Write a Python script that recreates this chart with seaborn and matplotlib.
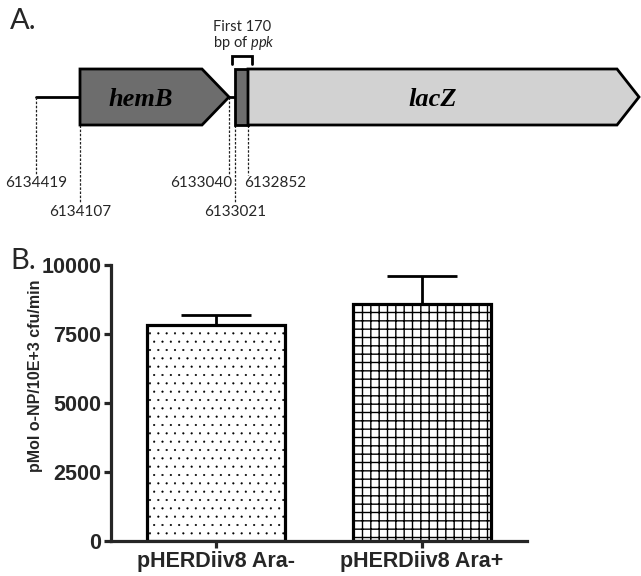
import numpy as np
import pandas as pd
import seaborn as sns
import matplotlib.pyplot as plt
from matplotlib.patches import Polygon

# ---- panel A: gene map (schematic, not to scale) ----
coords_bp = ['6134419', '6134107', '6133040', '6133021', '6132852']
coord_x = [36, 80, 229, 235, 248]          # schematic x positions
coord_row = [0, 1, 0, 1, 0]                # label row
coord_ha = ['center', 'center', 'right', 'center', 'left']
coord_from = [97, 125, 97, 125, 125]       # where the dashed line starts

gene_names = ['hemB', 'ppk', 'lacZ']
gene_start = [80, 235, 248]
gene_end = [229, 248, 639]
gene_head = [27, 0, 22]
gene_color = ['#6d6d6d', '#6d6d6d', '#d2d2d2']
gene_label = [True, False, True]

# ---- panel B: beta-gal activity ----
strains = ['pHERDiiv8 Ara-', 'pHERDiiv8 Ara+']
activity = [7820, 8580]
activity_sd = [370, 1010]
hatches = ['..', '++']
hatch_lw = [0.3, 1.0]

sns.set_theme(style='ticks')
plt.rcParams['font.family'] = ['Liberation Sans', 'DejaVu Sans']
plt.rcParams['hatch.linewidth'] = 1.0
plt.rcParams['mathtext.fontset'] = 'custom'
plt.rcParams['mathtext.rm'] = 'Lato'
plt.rcParams['mathtext.it'] = 'Lato:italic'

fig = plt.figure(figsize=(6.41, 5.76), dpi=100)

# panel A in pixel-like units
axA = fig.add_axes([0, 1 - 230 / 576, 1, 230 / 576])
axA.set_xlim(0, 641)
axA.set_ylim(230, 0)
axA.axis('off')

y_top, y_bot, y_mid = 69, 125, 97
axA.plot([coord_x[0], gene_start[0]], [y_mid, y_mid], color='black', lw=2)
axA.plot([gene_end[0], gene_start[1]], [y_mid, y_mid], color='black', lw=2)

for name, s, e, h, c, show in zip(gene_names, gene_start, gene_end, gene_head, gene_color, gene_label):
    pts = [(s, y_top), (e - h, y_top), (e, y_mid), (e - h, y_bot), (s, y_bot)]
    axA.add_patch(Polygon(pts, closed=True, facecolor=c, edgecolor='black', lw=2, zorder=3))
    if show:
        axA.text((s + e - h) / 2, y_mid + 2, name, family='Liberation Serif', style='italic',
                 weight='bold', fontsize=19, ha='center', va='center', color='black', zorder=4)

row_y = [183, 212]
for lab, x, r, ha, y0 in zip(coords_bp, coord_x, coord_row, coord_ha, coord_from):
    y1 = 175 if r == 0 else 203
    axA.plot([x, x], [y0, y1], color='#222222', lw=0.9, ls=(0, (2, 1.3)), zorder=2)
    tx = x + 3 if ha == 'right' else (x - 4 if ha == 'left' else x)
    axA.text(tx, row_y[r], lab, family='Lato', fontsize=11, ha=ha, va='center')

# bracket for first 170 bp of ppk
axA.plot([232, 232, 252, 252], [64, 56, 56, 64], color='black', lw=2, solid_joinstyle='miter')
axA.text(213, 27, 'First 170', family='Lato', fontsize=10.5, ha='left', va='center')
axA.text(213, 43, 'bp of $\\mathit{ppk}$', family='Lato', fontsize=10.5, ha='left', va='center')

fig.text(10 / 641, 1 - 21 / 576, 'A.', family='Lato', fontsize=21, ha='left', va='center')
fig.text(10 / 641, 1 - 261 / 576, 'B.', family='Lato', fontsize=21, ha='left', va='center')

# panel B
df = pd.DataFrame({'strain': strains, 'activity': activity})
axB = fig.add_axes([111 / 641, 1 - 541 / 576, 416 / 641, 276 / 576])
sns.barplot(data=df, x='strain', y='activity', ax=axB, color='white',
            edgecolor='black', linewidth=2.3, width=0.67, errorbar=None, zorder=2)
for p, h, hl in zip(axB.patches, hatches, hatch_lw):
    p.set_hatch(h)
    p.set_facecolor('white')
    if hasattr(p, 'set_hatch_linewidth'):
        p.set_hatch_linewidth(hl)
axB.errorbar(range(len(strains)), activity, yerr=[[0] * len(strains), activity_sd],
             fmt='none', ecolor='black', elinewidth=2, capsize=25.5, capthick=2, zorder=1)

axB.set_xlim(-0.51, 1.51)
axB.set_ylim(0, 10000)
axB.set_yticks([0, 2500, 5000, 7500, 10000])
axB.set_xlabel('')
axB.set_ylabel('pMol o-NP/10E+3 cfu/min', fontsize=11.5, weight='bold')
axB.yaxis.set_label_coords(-0.163, 0.60)
sns.despine(ax=axB)
for sp in ['left', 'bottom']:
    axB.spines[sp].set_linewidth(2.3)
axB.tick_params(axis='both', direction='out', length=5, width=2.3, labelsize=15.5, pad=2)
for t in axB.get_xticklabels() + axB.get_yticklabels():
    t.set_fontweight('bold')

fig.savefig('out.png', dpi=100)
